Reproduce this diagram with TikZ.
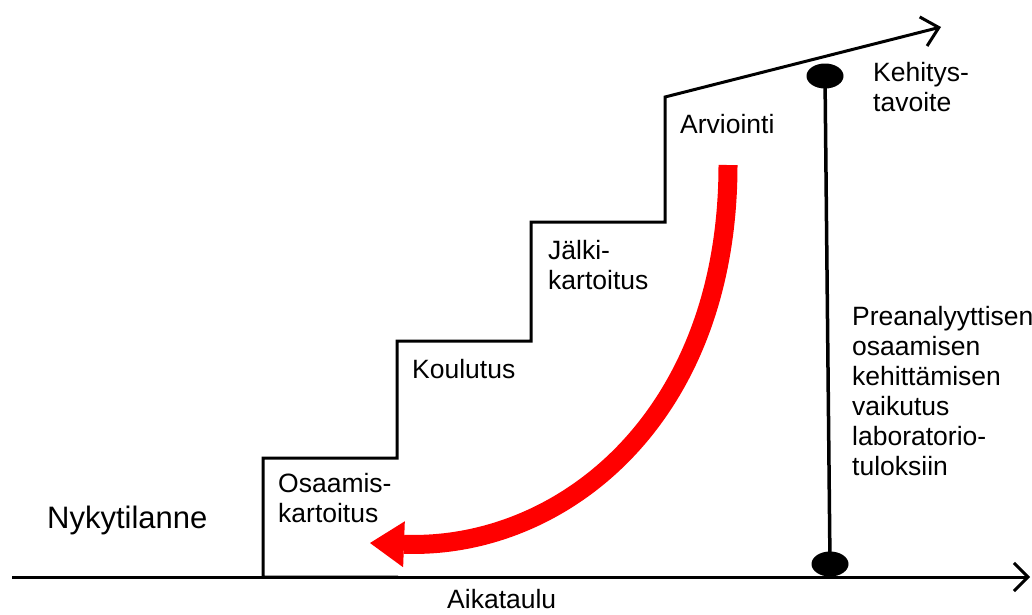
\documentclass[tikz,border=0pt]{standalone}
\usepackage{fontspec}
\setmainfont{Liberation Sans}
\usetikzlibrary{arrows.meta,shapes.geometric}
\begin{document}
\begin{tikzpicture}[x=1pt,y=-1pt,
  lbl/.style={font=\fontsize{26.5}{30}\selectfont, inner sep=0pt, anchor=base west, align=left},
  big/.style={font=\fontsize{31}{36}\selectfont, inner sep=0pt, anchor=base west},
  dot/.style={ellipse, fill=black, minimum width=37pt, minimum height=25pt, inner sep=0pt},
  axisline/.style={line width=3pt, -{Straight Barb[length=14pt,width=28pt]}},
  stairline/.style={line width=3pt, line join=miter, -{Straight Barb[length=16pt,width=30pt]}},
  gauge/.style={line width=3.5pt},
  flow/.style={red, line width=19pt, -{Triangle[length=34pt,width=46pt,line width=0pt]}}
]
\useasboundingbox (0,0) rectangle (1032,614);

% time axis
\coordinate (ax0) at (12,577);
\coordinate (ax1) at (1030,577);
\draw[axisline] (ax0) -- (ax1);

% staircase corners
\coordinate (s0) at (398,577);
\coordinate (s1) at (263,577);
\coordinate (s2) at (263,458);
\coordinate (s3) at (397,458);
\coordinate (s4) at (397,341);
\coordinate (s5) at (531,341);
\coordinate (s6) at (531,222);
\coordinate (s7) at (665,222);
\coordinate (s8) at (665,97);
\coordinate (goal) at (941,27);
\draw[stairline] (s0) -- (s1) -- (s2) -- (s3) -- (s4) -- (s5) -- (s6) -- (s7) -- (s8) -- (goal);

% gauge between current level and target
\node[dot] (top) at (825,76) {};
\node[dot] (bot) at (830,564) {};
\draw[gauge] (top.center) -- (bot.center);

% feedback arrow
\coordinate (rs) at (728,165);
\coordinate (rt) at (370,543);
\draw[flow] (rs) .. controls (728,420) and (560,550) .. (rt);

% labels (multi-line nodes sit on the baseline of their last line)
\node[lbl] (osa) at (278,522) {Osaamis-\\kartoitus};
\node[lbl] (kou) at (412,378) {Koulutus};
\node[lbl] (jal) at (548,289) {Jälki-\\kartoitus};
\node[lbl] (arv) at (680,133) {Arviointi};
\node[lbl] (keh) at (873,111) {Kehitys-\\tavoite};
\node[lbl] (pre) at (852,475) {Preanalyyttisen\\osaamisen\\kehittämisen\\vaikutus\\laboratorio-\\tuloksiin};
\node[big] (nyk) at (47,528) {Nykytilanne};
\node[lbl] (aik) at (447,608) {Aikataulu};
\end{tikzpicture}
\end{document}
